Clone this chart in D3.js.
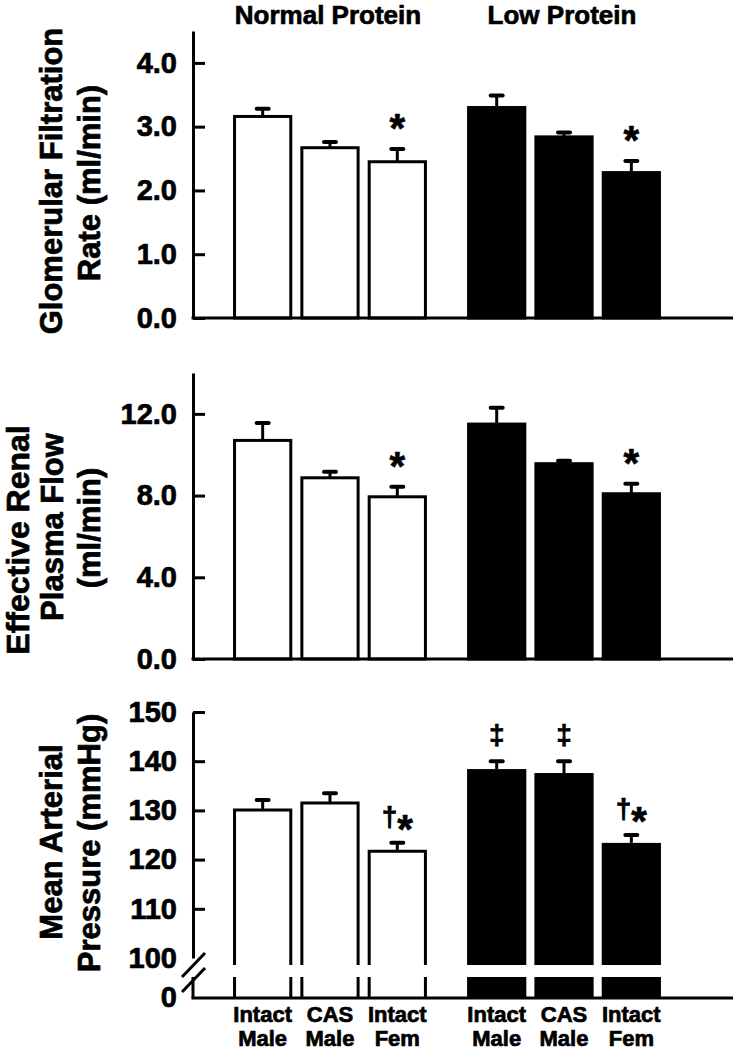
<!DOCTYPE html>
<html>
<head>
<meta charset="utf-8">
<script src="https://cdn.jsdelivr.net/npm/d3@7"></script>
<style>
  body { margin: 0; background: #fff; }
  svg { display: block; font-family: "Liberation Sans", Arial, sans-serif; font-weight: bold; }
  svg text { stroke: #000; stroke-width: 0.7px; }
</style>
</head>
<body>
<svg id="chart" width="733" height="1050"></svg>
<script>
  // groups and categories
  var groups = ["Normal Protein", "Low Protein"];
  var categories = ["Intact Male", "CAS Male", "Intact Fem"];
  var catLines = [["Intact", "Male"], ["CAS", "Male"], ["Intact", "Fem"]];

  // glomerular filtration rate (ml/min)
  var gfrNormal = [3.16, 2.67, 2.45];
  var gfrNormalSem = [0.12, 0.09, 0.20];
  var gfrLow = [3.30, 2.84, 2.28];
  var gfrLowSem = [0.19, 0.07, 0.18];
  var gfrMarks = [["", "", "*"], ["", "", "*"]];
  var gfrTicks = [0, 1, 2, 3, 4];

  // effective renal plasma flow (ml/min)
  var erpfNormal = [10.7, 8.87, 7.94];
  var erpfNormalSem = [0.85, 0.30, 0.49];
  var erpfLow = [11.5, 9.56, 8.09];
  var erpfLowSem = [0.80, 0.14, 0.49];
  var erpfMarks = [["", "", "*"], ["", "", "*"]];
  var erpfTicks = [0, 4, 8, 12];

  // mean arterial pressure (mmHg)
  var mapNormal = [130.1, 131.5, 121.7];
  var mapNormalSem = [2.0, 2.0, 1.7];
  var mapLow = [138.4, 137.6, 123.4];
  var mapLowSem = [1.6, 2.4, 1.6];
  var mapMarks = [["", "", "\u2020*"], ["\u2021", "\u2021", "\u2020*"]];
  var mapTicks = [100, 110, 120, 130, 140, 150];

  var svg = d3.select("#chart"),
      axisX = 193,
      rightX = 733,
      lw = 3;

  var outer = d3.scaleBand().domain(groups).range([229, 665]).paddingInner(0.137);
  var inner = d3.scaleBand().domain(categories).range([0, outer.bandwidth()])
      .paddingInner(0.12).paddingOuter(0.06);

  function rows(means, sems, marks) {
    var out = [];
    groups.forEach(function (g, gi) {
      categories.forEach(function (c, ci) {
        out.push({
          group: g, cat: c, gi: gi,
          mean: means[gi][ci], sem: sems[gi][ci], mark: marks[gi][ci],
          x: outer(g) + inner(c), w: inner.bandwidth()
        });
      });
    });
    return out;
  }

  // lines: [text, baseline x, centre y, font size]
  function yTitle(lines) {
    lines.forEach(function (l) {
      svg.append("text")
        .attr("transform", "translate(" + l[1] + "," + l[2] + ") rotate(-90)")
        .attr("text-anchor", "middle")
        .style("font-size", l[3] + "px")
        .text(l[0]);
    });
  }

  function drawAxis(y, ticks, fmt, hideFirstTick) {
    var g = svg.append("g")
      .attr("transform", "translate(" + axisX + ",0)")
      .call(d3.axisLeft(y).tickValues(ticks).tickFormat(fmt)
        .tickSizeInner(-12).tickSizeOuter(0).tickPadding(16));
    g.selectAll("path, line").attr("stroke", "#000").attr("stroke-width", lw);
    g.selectAll("text").style("font-size", "29px").attr("fill", "#000")
      .style("font-family", "'Liberation Sans', Arial, sans-serif");
    if (hideFirstTick) {
      g.selectAll(".tick").filter(function (d) { return d === ticks[0]; })
        .select("line").remove();
    }
    return g;
  }

  function drawErrors(data, y) {
    var e = svg.append("g").attr("stroke", "#000");
    data.forEach(function (d) {
      var cx = d.x + d.w / 2;
      e.append("line")
        .attr("x1", cx).attr("x2", cx)
        .attr("y1", y(d.mean)).attr("y2", y(d.mean + d.sem))
        .attr("stroke-width", lw);
      e.append("line")
        .attr("x1", cx - 6).attr("x2", cx + 6)
        .attr("y1", y(d.mean + d.sem)).attr("y2", y(d.mean + d.sem))
        .attr("stroke-width", 4).attr("stroke-linecap", "round");
    });
  }

  function drawMarks(data, y, gap) {
    data.forEach(function (d) {
      if (!d.mark) return;
      var t = svg.append("text")
        .attr("x", d.x + d.w / 2)
        .attr("y", y(d.mean + d.sem) - gap)
        .attr("text-anchor", "middle");
      d.mark.split("").forEach(function (ch) {
        t.append("tspan")
          .style("font-size", ch === "*" ? "40px" : "28px")
          .attr("dy", ch === "*" ? "0.42em" : "0.36em")
          .text(ch);
      });
    });
  }

  function drawBaseline(yPos) {
    svg.append("line")
      .attr("x1", axisX - lw / 2).attr("x2", rightX)
      .attr("y1", yPos).attr("y2", yPos)
      .attr("stroke", "#000").attr("stroke-width", lw);
  }

  function simplePanel(means, sems, marks, domain, top, bottom, ticks) {
    var y = d3.scaleLinear().domain(domain).range([bottom, top]);
    var data = rows(means, sems, marks);
    drawAxis(y, ticks, d3.format(".1f"), false);
    svg.append("g").selectAll("rect").data(data).enter().append("rect")
      .attr("x", function (d) { return d.x + lw / 2; })
      .attr("width", function (d) { return d.w - lw; })
      .attr("y", function (d) { return y(d.mean); })
      .attr("height", function (d) { return y(0) - y(d.mean); })
      .attr("fill", function (d) { return d.gi === 0 ? "#fff" : "#000"; })
      .attr("stroke", "#000").attr("stroke-width", lw);
    drawErrors(data, y);
    drawMarks(data, y, 24);
    drawBaseline(y(0));
    return y;
  }

  // panel 1 - GFR
  simplePanel([gfrNormal, gfrLow], [gfrNormalSem, gfrLowSem], gfrMarks, [0, 4.5], 31, 318, gfrTicks);
  yTitle([["Glomerular Filtration", 62, 181, 31], ["Rate (ml/min)", 100, 183, 31]]);

  // panel 2 - ERPF
  simplePanel([erpfNormal, erpfLow], [erpfNormalSem, erpfLowSem], erpfMarks, [0, 14], 373, 659, erpfTicks);
  yTitle([["Effective Renal", 29, 540, 32], ["Plasma Flow", 63, 527, 31], ["(ml/min)", 100, 528, 31]]);

  // panel 3 - MAP with broken axis
  var y3 = d3.scaleLinear().domain([100, 150]).range([958, 712]);
  var base3 = 998, breakTop = 965, breakBottom = 977;
  var data3 = rows([mapNormal, mapLow], [mapNormalSem, mapLowSem], mapMarks);
  drawAxis(y3, mapTicks, d3.format("d"), true);

  svg.append("line")
    .attr("x1", axisX).attr("x2", axisX)
    .attr("y1", breakBottom).attr("y2", base3)
    .attr("stroke", "#000").attr("stroke-width", lw);
  svg.append("text")
    .attr("x", axisX - 16).attr("y", base3).attr("dy", "0.32em")
    .attr("text-anchor", "end").style("font-size", "29px").text("0");
  [[182, 977, 205, 953], [182, 992, 205, 968]].forEach(function (s) {
    svg.append("line")
      .attr("x1", s[0]).attr("y1", s[1]).attr("x2", s[2]).attr("y2", s[3])
      .attr("stroke", "#000").attr("stroke-width", lw);
  });

  var bars3 = svg.append("g");
  data3.forEach(function (d) {
    var l = d.x + lw / 2, r = d.x + d.w - lw / 2, t = y3(d.mean);
    if (d.gi === 0) {
      bars3.append("path")
        .attr("d", "M" + l + "," + breakTop + "V" + t + "H" + r + "V" + breakTop)
        .attr("fill", "#fff").attr("stroke", "#000").attr("stroke-width", lw);
      bars3.append("path")
        .attr("d", "M" + l + "," + breakBottom + "V" + base3 + "M" + r + "," + breakBottom + "V" + base3)
        .attr("stroke", "#000").attr("stroke-width", lw);
    } else {
      bars3.append("rect")
        .attr("x", d.x).attr("width", d.w)
        .attr("y", t).attr("height", breakTop - t).attr("fill", "#000");
      bars3.append("rect")
        .attr("x", d.x).attr("width", d.w)
        .attr("y", breakBottom).attr("height", base3 - breakBottom).attr("fill", "#000");
    }
  });
  drawErrors(data3, y3);
  drawMarks(data3, y3, 27);
  drawBaseline(base3);
  yTitle([["Mean Arterial", 62, 842, 31], ["Pressure (mmHg)", 100, 843, 31]]);

  // group headers
  svg.selectAll(".grp").data(groups).enter().append("text")
    .attr("x", function (g) { return outer(g) + outer.bandwidth() / 2 - 2; })
    .attr("y", 24)
    .attr("text-anchor", "middle")
    .style("font-size", "26px")
    .text(function (g) { return g; });

  // category labels
  groups.forEach(function (g) {
    categories.forEach(function (c, ci) {
      var cx = outer(g) + inner(c) + inner.bandwidth() / 2;
      var t = svg.append("text")
        .attr("x", cx)
        .attr("y", 1022)
        .attr("text-anchor", "middle")
        .style("font-size", "22px");
      catLines[ci].forEach(function (line, li) {
        t.append("tspan")
          .attr("x", cx)
          .attr("dy", li === 0 ? 0 : 24)
          .text(line);
      });
    });
  });
</script>
</body>
</html>
